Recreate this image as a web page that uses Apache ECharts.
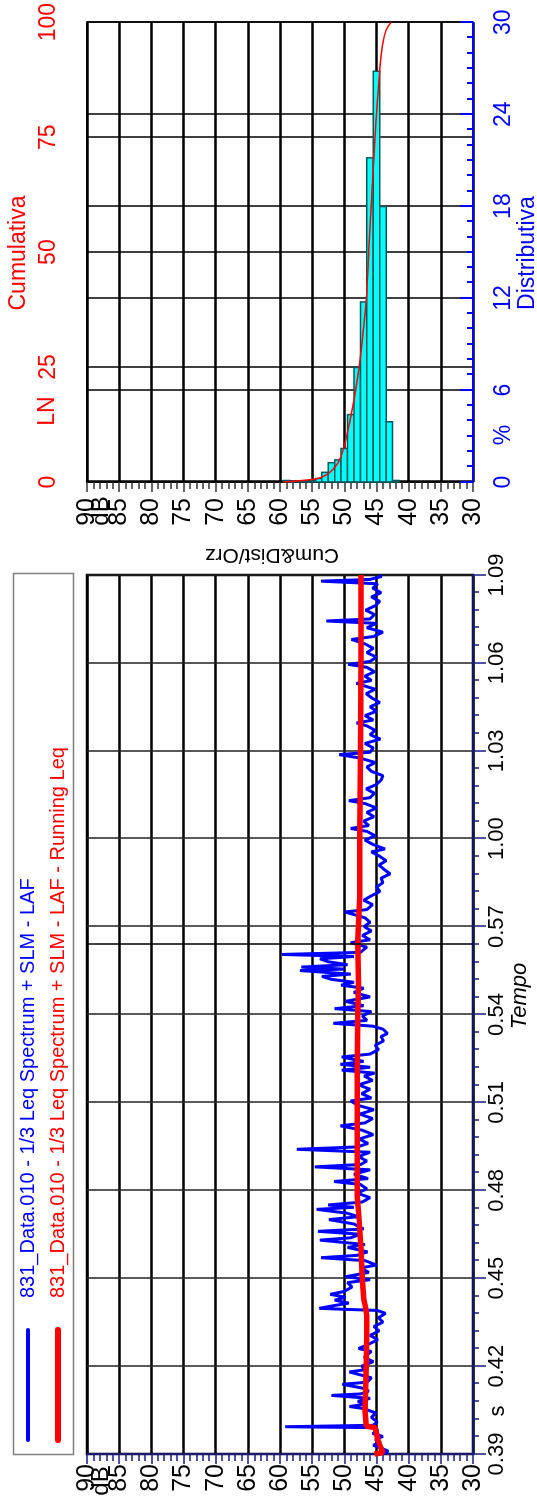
<!DOCTYPE html>
<html><head><meta charset="utf-8">
<script src="https://cdn.jsdelivr.net/npm/echarts/dist/echarts.min.js"></script>
<style>
html,body{margin:0;padding:0;background:#fff;overflow:hidden;width:537px;height:1505px;}
#chart{position:absolute;left:0;top:0;width:1505px;height:537px;transform-origin:0 0;transform:translate(0,1505px) rotate(-90deg);}
</style></head><body><div id="chart"></div>
<script>
// ---- data (time in seconds, levels in dB) ----
const lafTimes = [39.00,39.10,39.20,39.30,39.40,39.50,39.60,39.70,39.80,39.90,39.93,39.98,40.10,40.25,40.40,40.55,40.62,40.70,40.80,40.90,41.00,41.05,41.15,41.25,41.38,41.45,41.60,41.80,41.88,42.00,42.15,42.30,42.50,42.60,42.75,42.90,43.05,43.20,43.35,43.50,43.65,43.80,43.90,43.97,44.05,44.15,44.25,44.35,44.45,44.55,44.70,44.85,44.95,45.05,45.20,45.35,45.45,45.60,45.70,45.78,45.90,46.05,46.15,46.30,46.38,46.50,46.60,46.68,46.85,47.00,47.10,47.22,47.35,47.42,47.50,47.60,47.75,47.90,48.05,48.20,48.30,48.40,48.55,48.70,48.80,48.88,49.00,49.15,49.30,49.40,49.48,49.60,49.75,49.90,50.05,50.20,50.30,50.45,50.60,50.75,50.90,51.05,51.15,51.30,51.45,51.60,51.75,51.90,52.00,52.10,52.20,52.30,52.40,52.55,52.65,52.80,52.95,53.10,53.25,53.35,53.50,53.60,53.70,53.80,53.95,54.10,54.20,54.30,54.45,54.60,54.75,54.90,55.00,55.10,55.20,55.30,55.38,55.50,55.55,55.62,55.70,55.80,55.90,55.98,56.05,56.12,56.30,56.45,56.55,56.70,56.85,57.00,57.15,57.30,57.50,57.58,57.75,57.90,58.05,58.20,58.35,58.50,58.65,58.80,58.95,59.10,59.25,59.40,59.55,59.65,59.80,59.95,60.10,60.25,60.35,60.45,60.60,60.75,60.90,61.05,61.20,61.30,61.40,61.55,61.70,61.85,62.00,62.15,62.30,62.45,62.60,62.75,62.87,62.95,63.10,63.25,63.40,63.55,63.70,63.85,63.95,64.05,64.20,64.35,64.50,64.65,64.80,64.95,65.10,65.30,65.40,65.55,65.70,65.85,65.95,66.05,66.20,66.35,66.50,66.65,66.80,66.90,67.05,67.20,67.35,67.43,67.50,67.65,67.80,67.95,68.10,68.25,68.40,68.55,68.70,68.79,68.85,68.95,69.00];
const lafValues = [43.8,43.2,44.3,45.5,44.5,45.2,44.0,45.6,44.8,45.3,59.2,45.5,44.9,45.8,45.1,47.0,49.2,46.8,47.9,46.0,52.0,47.5,46.2,47.2,50.3,46.5,45.8,49.2,46.7,47.3,45.5,46.9,45.8,47.8,46.2,44.8,46.0,44.6,45.4,44.0,44.7,43.6,44.9,53.9,52.0,49.3,51.5,49.8,52.2,50.0,48.8,49.5,46.0,49.8,46.2,47.5,45.0,46.8,53.6,48.0,46.4,49.5,46.8,53.8,49.0,47.5,54.1,47.0,48.5,52.4,47.8,49.6,54.3,48.5,52.5,47.2,46.0,48.0,46.5,47.5,51.6,46.3,48.5,46.0,54.6,47.5,46.5,47.8,46.0,57.4,48.0,46.3,47.7,45.5,47.2,50.6,46.8,45.6,47.6,45.4,47.9,49.0,45.8,47.3,46.0,47.8,45.6,46.9,45.3,50.4,46.0,50.6,47.0,50.4,46.0,44.7,45.2,43.9,44.3,43.3,44.0,45.5,51.7,46.5,47.2,45.8,51.5,47.0,49.8,46.0,48.5,47.0,50.5,48.5,52.0,53.5,49.0,56.9,50.0,56.7,49.5,52.5,53.8,48.5,59.7,47.5,46.5,49.0,46.0,47.2,45.8,46.9,46.0,46.8,49.9,46.5,45.6,47.0,45.8,44.5,45.0,44.0,44.3,42.9,43.8,44.6,43.5,44.5,45.8,43.7,45.5,46.8,45.2,46.5,49.0,46.2,47.0,45.4,46.5,45.0,46.8,49.3,46.0,45.3,46.6,45.0,44.3,44.0,45.8,46.5,45.2,47.5,50.8,46.0,45.5,46.8,44.4,46.0,45.2,46.5,48.1,45.5,46.8,45.0,46.0,44.5,45.7,46.6,45.2,48.1,45.8,46.8,45.3,46.5,49.4,46.0,45.0,46.5,45.5,46.8,48.9,45.5,44.0,46.5,45.0,52.8,46.0,45.3,46.7,45.2,44.5,45.8,44.3,45.6,44.8,53.6,46.0,44.2,44.5];
const runTimes  = [39.00,39.05,39.20,39.50,39.90,39.95,40.50,41.00,42.00,43.00,43.70,44.00,44.30,45.00,46.00,47.00,47.80,49.00,50.00,52.00,54.00,55.00,56.50,58.00,60.00,63.00,66.00,69.00];
const runValues = [45.3,44.0,44.3,44.8,45.2,46.6,46.8,46.7,46.6,46.5,46.5,46.7,47.0,47.2,47.4,47.7,48.0,48.0,48.0,48.0,47.9,47.8,47.9,47.6,47.6,47.5,47.4,47.4];
const cursorTime = 56.4;
// histogram: dB class centre -> % of time
const histLevels  = [59,58,57,56,55,54,53,52,51,50,49,48,47,46,45,44,43,42];
const histPercent = [0.1,0,0.05,0.05,0.1,0.23,0.63,1.26,1.44,2.19,4.4,7.47,11.75,21.15,26.8,17.97,3.93,0.1];
// cumulative curve: level -> %
const cumLevels  = [59.5,56.4,53.8,51.8,50.5,49.2,47.9,47.1,46.6,46.2,45.9,45.5,45.1,44.5,44.0,43.5,42.7];
const cumPercent = [0,0.35,0.9,2.7,5.6,12.8,22.9,32.4,39.6,50.5,58.3,68,77.7,89.4,95.6,98.3,100];
const legendNames = ['831_Data.010 - 1/3 Leq Spectrum + SLM - LAF','831_Data.010 - 1/3 Leq Spectrum + SLM - LAF - Running Leq'];

const FONT = '"Liberation Sans", Arial, sans-serif';
const NAVY = '#1a1a8a';
const chart = echarts.init(document.getElementById('chart'), null, {width:1505, height:537, renderer:'canvas'});
const fmtTime = v => { const m = Math.floor(v/60), s = Math.round(v - m*60); return m + '.' + String(s).padStart(2,'0'); };

const option = {
  animation:false,
  backgroundColor:'#fff',
  textStyle:{fontFamily:FONT},
  grid:[
    {left:51, top:87, width:879, height:386, show:true, borderColor:'#000', borderWidth:2.5, containLabel:false},
    {left:1023, top:87, width:460, height:386, show:false, containLabel:false}
  ],
  xAxis:[
    {gridIndex:0, type:'value', min:39, max:69, interval:3, position:'bottom',
     axisLine:{show:true, lineStyle:{color:NAVY, width:1.5}},
     axisTick:{show:true, length:13, lineStyle:{color:NAVY, width:1.5}},
     minorTick:{show:true, splitNumber:5, length:6, lineStyle:{color:NAVY, width:1.5}},
     axisLabel:{fontSize:22, color:'#000', margin:13, fontFamily:FONT, formatter:fmtTime},
     splitLine:{show:true, lineStyle:{color:'#222', width:1.5}}},
    {gridIndex:1, type:'value', min:0, max:30, interval:6, position:'bottom',
     axisLine:{show:true, lineStyle:{color:'#0000ff', width:2}},
     axisTick:{show:true, inside:true, length:13, lineStyle:{color:'#0000ff', width:2}},
     minorTick:{show:true, splitNumber:6, length:6, lineStyle:{color:'#0000ff', width:2}},
     axisLabel:{fontSize:23, color:'#0000ff', margin:19, fontFamily:FONT},
     splitLine:{show:true, lineStyle:{color:'#000', width:1.5}}},
    {gridIndex:1, type:'value', min:0, max:100, interval:25, position:'top',
     axisLine:{show:true, lineStyle:{color:'#000', width:2}},
     axisTick:{show:false},
     axisLabel:{fontSize:23, color:'#ff0000', margin:27, fontFamily:FONT},
     splitLine:{show:true, lineStyle:{color:'#000', width:1.5}}}
  ],
  yAxis:[
    {gridIndex:0, type:'value', min:30, max:90, interval:5,
     axisLine:{show:true, lineStyle:{color:NAVY, width:1.5}},
     axisTick:{show:true, length:10, lineStyle:{color:NAVY, width:1.5}},
     minorTick:{show:true, splitNumber:5, length:7, lineStyle:{color:NAVY, width:1.5}},
     axisLabel:{fontSize:25, color:'#000', margin:10, fontFamily:FONT},
     splitLine:{show:true, lineStyle:{color:'#000', width:2.5}}},
    {gridIndex:1, type:'value', min:30, max:90, interval:5,
     axisLine:{show:true, lineStyle:{color:'#000', width:2.5}},
     axisTick:{show:true, length:10, lineStyle:{color:'#333', width:1.5}},
     minorTick:{show:true, splitNumber:5, length:7, lineStyle:{color:'#333', width:1.5}},
     axisLabel:{fontSize:25, color:'#000', margin:16, fontFamily:FONT},
     splitLine:{show:true, lineStyle:{color:'#000', width:2.5}}}
  ],
  series:[
    {name:legendNames[0], type:'line', xAxisIndex:0, yAxisIndex:0, showSymbol:false, symbol:'none',
     data:lafTimes.map((t,i)=>[t, lafValues[i]]),
     lineStyle:{color:'#0000ff', width:3}, z:3,
     markLine:{silent:true, symbol:'none', label:{show:false}, lineStyle:{color:'#000', width:1.5, type:'solid'},
               data:[{xAxis:cursorTime}]}},
    {name:legendNames[1], type:'line', xAxisIndex:0, yAxisIndex:0, showSymbol:false, symbol:'none',
     data:runTimes.map((t,i)=>[t, runValues[i]]),
     lineStyle:{color:'#ff0000', width:5.5}, z:4},
    {type:'custom', xAxisIndex:1, yAxisIndex:1, z:3,
     data:histLevels.map((l,i)=>[histPercent[i], l]),
     renderItem:(params, api)=>{
       const pct = api.value(0), lev = api.value(1);
       const a = api.coord([0, lev+0.5]), b = api.coord([pct, lev-0.5]);
       return {type:'rect', shape:{x:a[0], y:a[1], width:b[0]-a[0], height:b[1]-a[1]},
               style:{fill:'#00ffff', stroke:'#005a5a', lineWidth:1.5}};
     }},
    {type:'line', xAxisIndex:2, yAxisIndex:1, showSymbol:false, symbol:'none', smooth:0.4,
     data:cumLevels.map((l,i)=>[cumPercent[i], l]),
     lineStyle:{color:'#ff0000', width:1.5}, z:5}
  ],
  graphic:[
    {type:'rect', shape:{x:50.5, y:13.5, width:881, height:60}, style:{fill:'none', stroke:'#808080', lineWidth:1.5}},
    {type:'line', shape:{x1:65, y1:28, x2:175, y2:28}, style:{stroke:'#0000ff', lineWidth:4, lineCap:'round'}},
    {type:'line', shape:{x1:65, y1:58, x2:175, y2:58}, style:{stroke:'#ff0000', lineWidth:6, lineCap:'round'}},
    {type:'text', x:207, y:28, style:{text:legendNames[0], fill:'#0000ff', font:'20px '+FONT, textVerticalAlign:'middle', verticalAlign:'middle'}},
    {type:'text', x:207, y:58, style:{text:legendNames[1], fill:'#ff0000', font:'20px '+FONT, textVerticalAlign:'middle', verticalAlign:'middle'}},
    {type:'text', x:94, y:498, style:{text:'s', fill:'#000', font:'22px '+FONT, align:'center', verticalAlign:'middle'}},
    {type:'text', x:509, y:520, style:{text:'Tempo', fill:'#000', font:'italic 22px '+FONT, align:'center', verticalAlign:'middle'}},
    {type:'text', x:950, y:272, rotation:Math.PI/2, style:{text:'Cum&Dist/Orz', fill:'#000', font:'21px '+FONT, align:'center', verticalAlign:'middle'}},
    {type:'text', x:24, y:101, style:{text:'dB', fill:'#000', font:'24px '+FONT, align:'center', verticalAlign:'middle'}},
    {type:'text', x:994, y:101, style:{text:'dB', fill:'#000', font:'24px '+FONT, align:'center', verticalAlign:'middle'}},
    {type:'text', x:1094, y:48, style:{text:'LN', fill:'#ff0000', font:'23px '+FONT, align:'center', verticalAlign:'middle'}},
    {type:'text', x:1252, y:19, style:{text:'Cumulativa', fill:'#ff0000', font:'23px '+FONT, align:'center', verticalAlign:'middle'}},
    {type:'text', x:1070, y:504, style:{text:'%', fill:'#0000ff', font:'23px '+FONT, align:'center', verticalAlign:'middle'}},
    {type:'text', x:1252, y:528, style:{text:'Distributiva', fill:'#0000ff', font:'23px '+FONT, align:'center', verticalAlign:'middle'}}
  ]
};
chart.setOption(option);
</script></body></html>
